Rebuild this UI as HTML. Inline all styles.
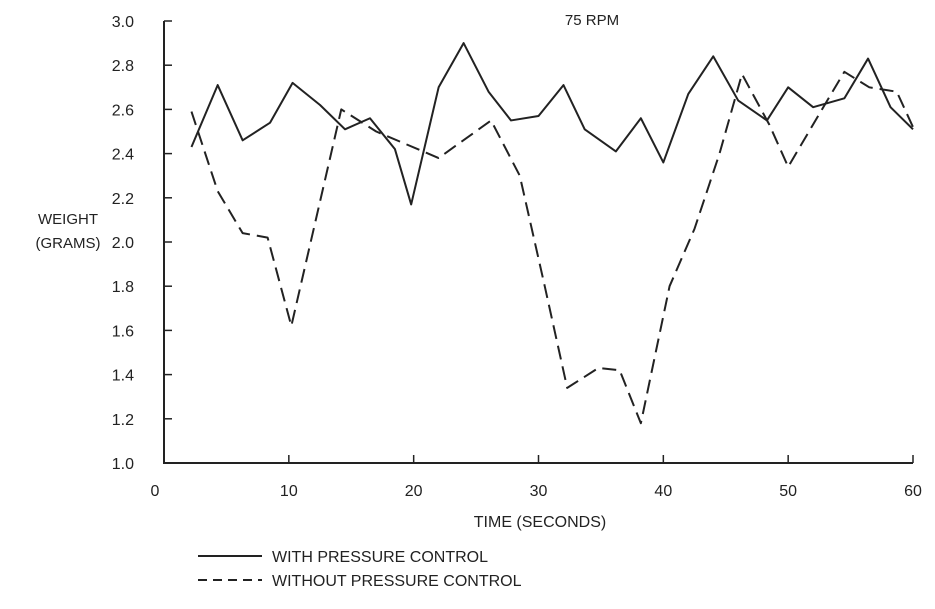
<!DOCTYPE html>
<html><head><meta charset="utf-8"><style>
body{margin:0;background:#fff;}
svg text{font-family:"Liberation Sans",Arial,sans-serif;fill:#222;}
</style></head><body>
<svg width="935" height="604" viewBox="0 0 935 604">
<g id="axes"></g><g id="series"></g>
<text x="592" y="25" font-size="15" text-anchor="middle">75 RPM</text>
<text x="68" y="224" font-size="15" text-anchor="middle">WEIGHT</text>
<text x="68" y="248" font-size="15" text-anchor="middle">(GRAMS)</text>
<text x="540" y="527" font-size="16" text-anchor="middle">TIME (SECONDS)</text>
<g>
<line x1="198" y1="556" x2="262" y2="556" stroke="#222" stroke-width="2"/>
<text x="272" y="562" font-size="16">WITH PRESSURE CONTROL</text>
<line x1="198" y1="580" x2="262" y2="580" stroke="#222" stroke-width="2" stroke-dasharray="9,6"/>
<text x="272" y="586" font-size="16">WITHOUT PRESSURE CONTROL</text>
</g>
</svg>
<script>
const xTicks=[0,10,20,30,40,50,60];
const yTicks=[1.0,1.2,1.4,1.6,1.8,2.0,2.2,2.4,2.6,2.8,3.0];
const withX=[2.2,4.3,6.3,8.5,10.3,12.5,14.5,16.5,18.5,19.8,22,24,26,27.8,30,32,33.7,36.2,38.2,40,42,44,46,48.3,50,52,54.5,56.4,58.2,60];
const withY=[2.43,2.71,2.46,2.54,2.72,2.62,2.51,2.56,2.42,2.17,2.70,2.90,2.68,2.55,2.57,2.71,2.51,2.41,2.56,2.36,2.67,2.84,2.64,2.55,2.70,2.61,2.65,2.83,2.61,2.51];
const withoutX=[2.2,4.3,6.3,8.3,10.2,14.2,17,22,26.2,28.5,30.5,32.3,34.8,36.5,38.2,40.5,42.5,44.5,46.3,48.5,50,52.5,54.5,56.5,58.7,60];
const withoutY=[2.59,2.23,2.04,2.02,1.62,2.60,2.50,2.38,2.55,2.30,1.80,1.34,1.43,1.42,1.18,1.80,2.06,2.40,2.76,2.53,2.34,2.58,2.77,2.70,2.68,2.52];
const NS="http://www.w3.org/2000/svg";
const X=v=>164+(v/60)*749, Y=v=>463-(v-1)/2*442;
const ax=document.getElementById('axes'), se=document.getElementById('series');
function mk(t,a,p){const e=document.createElementNS(NS,t);for(const k in a)e.setAttribute(k,a[k]);p.appendChild(e);return e;}
let e=mk('path',{d:`M${X(0)},${Y(3)}V${Y(1)}H${X(60)}`,fill:'none',stroke:'#222','stroke-width':2},ax);

yTicks.forEach(v=>{
 mk('line',{x1:X(0),x2:X(0)+8,y1:Y(v),y2:Y(v),stroke:'#222','stroke-width':1.5},ax);
 const t=mk('text',{x:134,y:Y(v)+6,'font-size':16,'text-anchor':'end'},ax);t.textContent=v.toFixed(1);
 
 
});
xTicks.forEach(v=>{
 mk('line',{x1:X(v),x2:X(v),y1:Y(1),y2:Y(1)-8,stroke:'#222','stroke-width':1.5},ax);
 const t=mk('text',{x:X(v)-(v===0?9:0),y:496,'font-size':16,'text-anchor':'middle'},ax);t.textContent=v;
 
 
});
function line(xs,ys,dash,name){
 const p=mk('polyline',{points:xs.map((x,i)=>X(x)+','+Y(ys[i])).join(' '),fill:'none',stroke:'#222','stroke-width':2,'stroke-linejoin':'round'},se);
 if(dash)p.setAttribute('stroke-dasharray','14,7');
 
 
}
line(withX,withY,false,'with-pressure-control-line');
line(withoutX,withoutY,true,'without-pressure-control-line');
</script>
</body></html>
